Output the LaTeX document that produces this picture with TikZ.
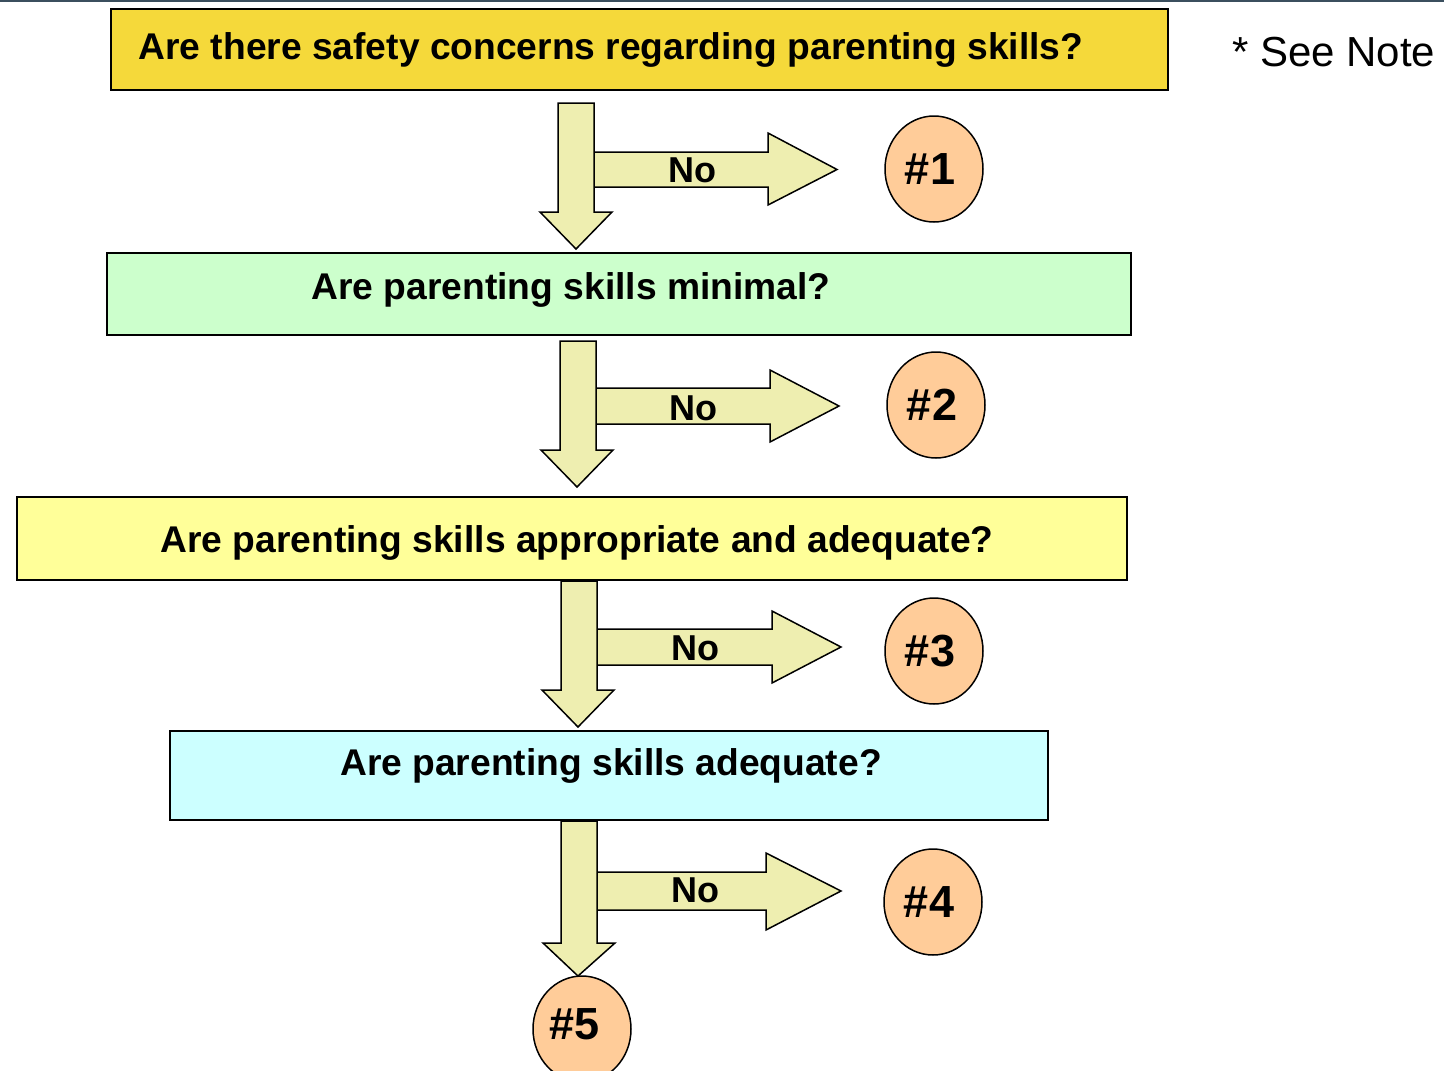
\documentclass[tikz,border=0pt]{standalone}
\usepackage{fontspec}
\setmainfont{Liberation Sans}
\usetikzlibrary{shapes.geometric}
\definecolor{gold}{HTML}{F5D93A}
\definecolor{mint}{HTML}{CCFFCC}
\definecolor{paleyellow}{HTML}{FFFF99}
\definecolor{paleCyan}{HTML}{CCFFFF}
\definecolor{peach}{HTML}{FFCC99}
\definecolor{khaki}{HTML}{EEEEB0}
\definecolor{slate}{HTML}{3B4F5E}
\tikzset{
  qbox/.style={draw=black, line width=1.5pt, rectangle, inner sep=0pt},
  qtext/.style={font=\fontsize{37.2}{40}\selectfont\bfseries, inner sep=0pt},
  outcome/.style={ellipse, draw=black, line width=1.5pt, fill=peach, minimum width=98pt, minimum height=106pt, inner sep=0pt, font=\fontsize{45}{50}\selectfont\bfseries},
  blockarrow/.style={draw=black, line width=1.5pt, fill=khaki, line join=miter},
  notext/.style={font=\fontsize{36}{40}\selectfont\bfseries, inner sep=0pt}
}
\newcommand{\outlabel}[2]{\raisebox{-6pt}{\kern#1pt\#{}#2}}
\begin{document}
\begin{tikzpicture}[x=1pt,y=-1pt]
\useasboundingbox (0,0) rectangle (1444,1071);
\clip (0,0) rectangle (1444,1071);
\fill[white] (0,0) rectangle (1444,1071);
\draw[slate, line width=2.5pt] (0,1) -- (1444,1);

% question boxes
\node[qbox, fill=gold, minimum width=1057pt, minimum height=81pt] (q1) at (639.5,49.5) {};
\node[qtext] (q1t) at (611,50) {Are there safety concerns regarding parenting skills?};
\node[qbox, fill=mint, minimum width=1024pt, minimum height=82pt] (q2) at (619,294) {};
\node[qtext] (q2t) at (571,290) {Are parenting skills minimal?};
\node[qbox, fill=paleyellow, minimum width=1110pt, minimum height=83pt] (q3) at (572,538.5) {};
\node[qtext] (q3t) at (577,543) {Are parenting skills appropriate and adequate?};
\node[qbox, fill=paleCyan, minimum width=878pt, minimum height=89pt] (q4) at (609,775.5) {};
\node[qtext] (q4t) at (611,766) {Are parenting skills adequate?};

% outcomes
\node[outcome] (o1) at (934,169) {\outlabel{-8}{1}};
\node[outcome] (o2) at (936,405) {\outlabel{-8}{2}};
\node[outcome] (o3) at (934,651) {\outlabel{-8}{3}};
\node[outcome] (o4) at (933,902) {\outlabel{-8}{4}};
\node[outcome] (o5) at (582,1029) {\raisebox{10pt}{\kern-15pt\#5}};

% arrows 1
\draw[blockarrow] (576,152) -- (768,152) -- (768,133) -- (837,169.5) -- (768,205) -- (768,187) -- (576,187) -- cycle;
\draw[blockarrow] (558,103) -- (594,103) -- (594,212) -- (612,212) -- (576,249) -- (540,212) -- (558,212) -- cycle;
\node[notext] (n1) at (692,170) {No};

% arrows 2
\draw[blockarrow] (578,388) -- (770,388) -- (770,370) -- (839,406) -- (770,442) -- (770,424) -- (578,424) -- cycle;
\draw[blockarrow] (560,341) -- (596,341) -- (596,450) -- (613,450) -- (577,487) -- (541,450) -- (560,450) -- cycle;
\node[notext] (n2) at (693,408) {No};

% arrows 3
\draw[blockarrow] (579,629) -- (772,629) -- (772,611) -- (841,647) -- (772,683) -- (772,665) -- (579,665) -- cycle;
\draw[blockarrow] (561,581) -- (597,581) -- (597,690) -- (614,690) -- (578,727) -- (542,690) -- (561,690) -- cycle;
\node[notext] (n3) at (695,648) {No};

% arrows 4
\draw[blockarrow] (579,872) -- (766,872) -- (766,853) -- (841,891) -- (766,930) -- (766,910) -- (579,910) -- cycle;
\draw[blockarrow] (561,821) -- (597,821) -- (597,943) -- (615,943) -- (578,976) -- (543,943) -- (561,943) -- cycle;
\node[notext] (n4) at (695,890) {No};

% note
\node[font=\fontsize{42}{45}\selectfont, inner sep=0pt, anchor=west] (note) at (1232,52) {* See Note};
\end{tikzpicture}
\end{document}
